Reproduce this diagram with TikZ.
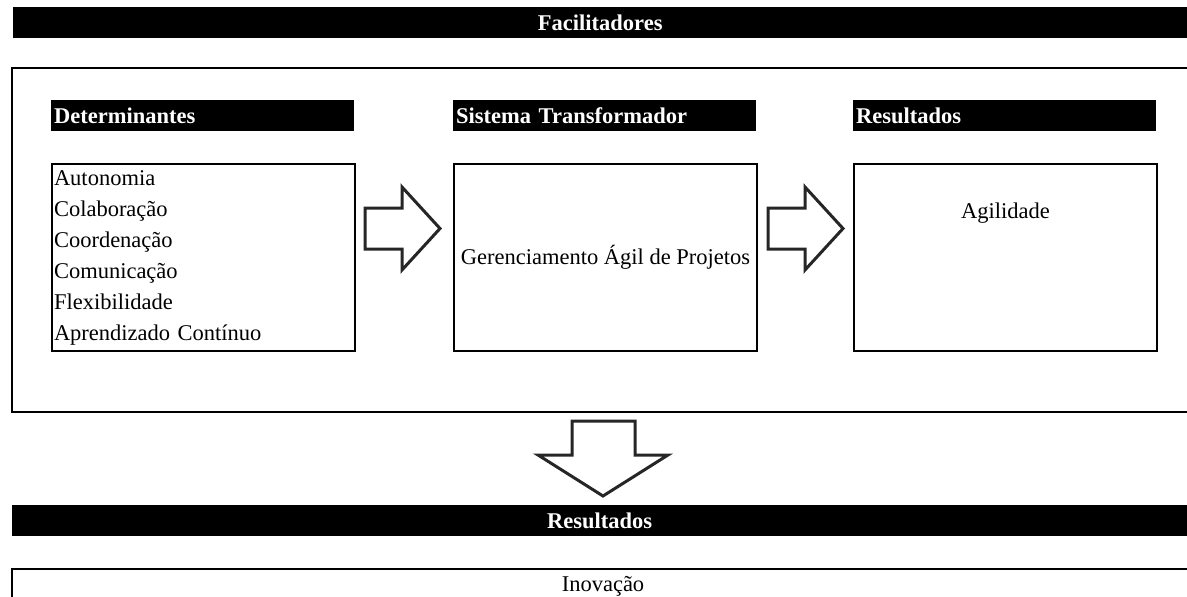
\documentclass[tikz,border=0pt]{standalone}
\usepackage{fontspec}
\setmainfont{Liberation Serif}
\usetikzlibrary{positioning,calc}

\tikzset{
    bar/.style={fill=black, text=white, font=\fontsize{22.5}{25}\selectfont\bfseries, inner sep=0pt, minimum height=31pt},
    headbar/.style={bar, anchor=north west, minimum width=303pt, text width=297pt, inner xsep=3pt, align=left},
    listbox/.style={draw=black, line width=2pt, anchor=north west, minimum width=303pt, minimum height=187pt, inner xsep=2pt, font=\fontsize{22.5}{31}\selectfont},
    frame/.style={draw=black, line width=2pt},
    blockarrow/.style={draw=black!85, line width=3pt, fill=white, line join=miter}
}

\begin{document}
\begin{tikzpicture}[x=1pt, y=-1pt]
    \useasboundingbox (0,0) rectangle (1187,597);

    % Facilitadores
    \node[bar, anchor=north west, minimum width=1174pt] (facil) at (13,7) {Facilitadores};
    \draw[frame] (1187,68) -| (12,412) -- (1187,412);

    % Column headers
    \node[headbar] (hdet) at (51,100) {Determinantes};
    \node[headbar] (hsis) at (453,100) {Sistema Transformador};
    \node[headbar] (hres) at (853,100) {Resultados};

    % Boxes
    \node[listbox, text width=299pt, align=left] (bdet) at (51,163) {Autonomia\\Colaboração\\Coordenação\\Comunicação\\Flexibilidade\\Aprendizado Contínuo};
    \node[listbox, align=center] (bsis) at (453,163) {Gerenciamento Ágil de Projetos};
    \node[listbox] (bres) at (853,163) {};
    \node[font=\fontsize{22.5}{31}\selectfont, below=50pt of bres.north, anchor=center] (agil) {Agilidade};

    % Block arrows
    \foreach \dx in {0,403} {
        \draw[blockarrow, xshift=\dx pt] (365,208) -- (402,208) -- (402,187) -- (440,228.5)
            -- (402,270) -- (402,249) -- (365,249) -- cycle;
    }
    \draw[blockarrow] (572,421) -- (635,421) -- (635,455) -- (668,455) -- (603,496)
        -- (538,455) -- (572,455) -- cycle;

    % Resultados
    \node[bar, anchor=north west, minimum width=1175pt] (resul) at (12,505) {Resultados};
    \draw[frame] (1187,569) -| (12,600);
    \node[font=\fontsize{22.5}{24}\selectfont, anchor=base] (inov) at (603,591) {Inovação};
\end{tikzpicture}
\end{document}
